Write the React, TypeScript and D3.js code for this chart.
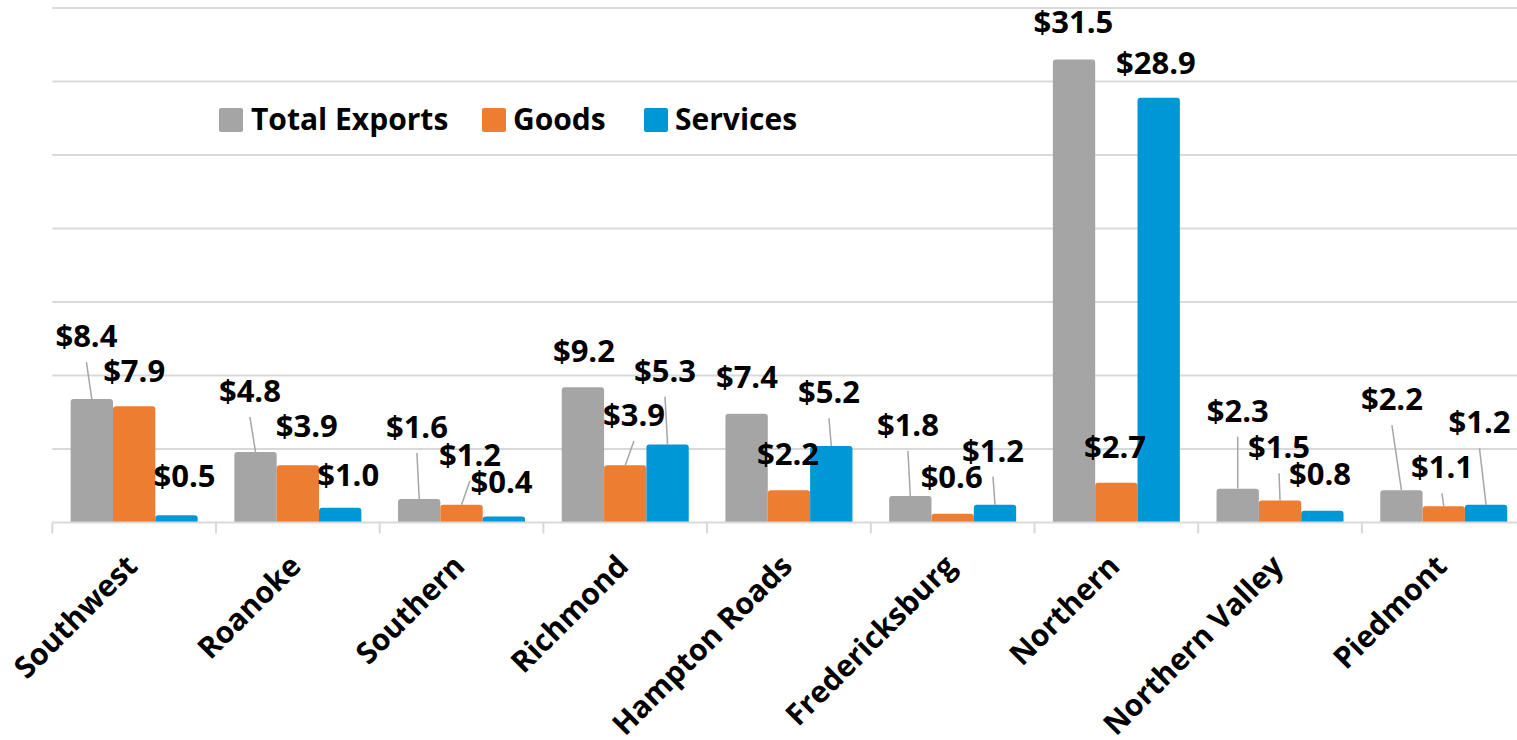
import React from "react";
import * as d3 from "d3";

const categories = ["Southwest", "Roanoke", "Southern", "Richmond", "Hampton Roads", "Fredericksburg", "Northern", "Northern Valley", "Piedmont"];
const seriesNames = ["Total Exports", "Goods", "Services"];
const totalExports = [8.4, 4.8, 1.6, 9.2, 7.4, 1.8, 31.5, 2.3, 2.2];
const goods = [7.9, 3.9, 1.2, 3.9, 2.2, 0.6, 2.7, 1.5, 1.1];
const services = [0.5, 1.0, 0.4, 5.3, 5.2, 1.2, 28.9, 0.8, 1.2];
const yTicks = [0, 5, 10, 15, 20, 25, 30, 35];

// label placement (px offset of label centre/baseline from bar top-centre, leader line flag)
const totalLabelOffsets: [number, number, boolean][] = [
  [-5.4, -52, true], [-5.6, -50, true], [-2.3, -61, true], [1, -25.6, false], [0.3, -25.4, false],
  [-2.4, -60, true], [-0.6, -26, false], [0, -67, true], [-9.5, -80, true],
];
const goodsLabelOffsets: [number, number, boolean][] = [
  [0, -24.7, false], [9, -28.2, false], [8.4, -39, true], [8.7, -39.2, true], [-1, -25.2, false],
  [-1, -25.4, false], [-1.4, -24.8, false], [-1, -42.2, true], [-1.8, -28, true],
];
const servicesLabelOffsets: [number, number, boolean][] = [
  [8, -28.5, false], [8, -22, false], [-2.4, -23.3, false], [-2.6, -63, true], [-2.3, -42.8, true],
  [-2, -43.2, true], [-2.7, -23.7, false], [-2.4, -25.7, false], [-6.6, -71.6, true],
];

const colors = ["#A5A5A5", "#ED7D31", "#0097D6"];
const FONT = "'Open Sans', 'Noto Sans', sans-serif";

export default function App() {
  const W = 1517, H = 740;
  const left = 52.3, bandStep = 163.7;
  const x = d3.scaleBand<string>().domain(categories).range([left, left + bandStep * categories.length]).padding(0);
  const xSub = d3.scaleBand<string>().domain(seriesNames).range([0, x.bandwidth()]).paddingInner(0).paddingOuter(0.4335);
  const y = d3.scaleLinear().domain([0, 35]).range([522.5, 8]);
  const seriesValues = [totalExports, goods, services];
  const offsets = [totalLabelOffsets, goodsLabelOffsets, servicesLabelOffsets];
  const y0 = y(0);
  const bw = xSub.bandwidth();

  const barPath = (x0: number, top: number, w: number, bottom: number) => {
    const r = Math.min(3, (bottom - top) / 2);
    return `M${x0},${bottom}V${top + r}Q${x0},${top} ${x0 + r},${top}H${x0 + w - r}Q${x0 + w},${top} ${x0 + w},${top + r}V${bottom}Z`;
  };

  const legendItems = [
    { name: seriesNames[0], sx: 219, tx: 251 },
    { name: seriesNames[1], sx: 482, tx: 513 },
    { name: seriesNames[2], sx: 644, tx: 675 },
  ];

  return (
    <svg width={W} height={H} style={{ position: "absolute", left: 0, top: 0, background: "#fff" }} fontFamily={FONT}>
      <rect x={0} y={0} width={W} height={H} fill="#fff" />
      {yTicks.filter((t) => t > 0).map((t) => (
        <line key={t} x1={left} x2={x.range()[1]} y1={y(t)} y2={y(t)} stroke="#D9D9D9" strokeWidth={2} />
      ))}
      {seriesValues.map((vals, si) =>
        vals.map((v, ci) => {
          const bx = (x(categories[ci]) as number) + (xSub(seriesNames[si]) as number);
          return <path key={`b${si}-${ci}`} d={barPath(bx, y(v), bw, y0)} fill={colors[si]} />;
        })
      )}
      <line x1={left} x2={x.range()[1]} y1={y0} y2={y0} stroke="#D9D9D9" strokeWidth={2} />
      {d3.range(categories.length + 1).map((i) => {
        const tx = left + i * x.step();
        return <line key={`t${i}`} x1={tx} x2={tx} y1={y0} y2={y0 + 11} stroke="#D9D9D9" strokeWidth={2} />;
      })}
      {seriesValues.map((vals, si) =>
        vals.map((v, ci) => {
          const cx = (x(categories[ci]) as number) + (xSub(seriesNames[si]) as number) + bw / 2;
          const top = y(v);
          const [dx, dy, leader] = offsets[si][ci];
          const lx = cx + dx, ly = top + dy;
          return (
            <g key={`l${si}-${ci}`}>
              {leader && <line x1={lx} y1={ly + 15} x2={cx} y2={top} stroke="#A6A6A6" strokeWidth={1.5} />}
              <text x={lx} y={ly} textAnchor="middle" fontSize={31} fontWeight={700} fill="#000">
                {`$${v.toFixed(1)}`}
              </text>
            </g>
          );
        })
      )}
      {categories.map((c) => {
        const cx = (x(c) as number) + x.bandwidth() / 2;
        return (
          <text key={c} transform={`translate(${cx + 5},${568}) rotate(-45)`} textAnchor="end" fontSize={30} fontWeight={700} fill="#000">
            {c}
          </text>
        );
      })}
      {legendItems.map((it, i) => (
        <g key={it.name}>
          <rect x={it.sx} y={108} width={24} height={24} rx={2} fill={colors[i]} />
          <text x={it.tx} y={130} fontSize={30} fontWeight={700} fill="#000">{it.name}</text>
        </g>
      ))}
    </svg>
  );
}
